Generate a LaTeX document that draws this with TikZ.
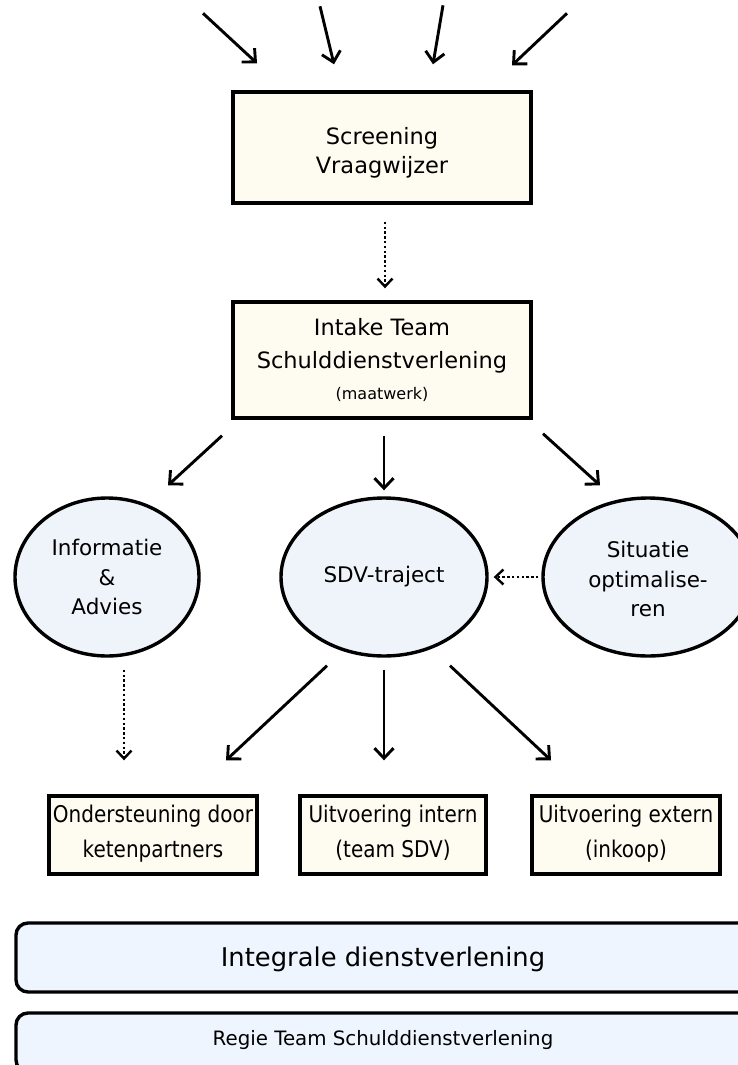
\documentclass[tikz,border=0pt]{standalone}
\usepackage{fontspec}
\setmainfont{DejaVu Sans}
\usetikzlibrary{arrows.meta,shapes.geometric,calc}
\definecolor{boxfill}{HTML}{FEFCF0}
\definecolor{ellfill}{HTML}{EFF4FA}
\definecolor{bankfill}{HTML}{EEF5FE}
\newcommand{\fsz}[1]{\fontsize{#1}{#1}\selectfont}
\newcommand{\shiftv}[2]{\raisebox{#1}[\height][\depth]{#2}}
\begin{document}
\begin{tikzpicture}[x=1pt,y=-1pt,
  box/.style={draw=black,line width=3.4pt,fill=boxfill,inner sep=0pt,align=center},
  ell/.style={draw=black,line width=3.4pt,fill=ellfill,ellipse,inner sep=0pt,align=center,minimum height=158pt},
  bank/.style={draw=black,line width=3.4pt,fill=bankfill,rounded corners=12pt,inner sep=0pt,minimum width=734pt},
  arr/.style={line width=2.9pt,-{Straight Barb[length=10pt,width=19pt,line width=2.9pt]}},
  darr/.style={line width=2.8pt,dash pattern=on 2.4pt off 2.4pt,-{Straight Barb[length=8pt,width=15pt,line width=2.4pt]}}]
\useasboundingbox (0,0) rectangle (738,1065);
\clip (0,0) rectangle (738,1065);

\node[box,minimum width=298pt,minimum height=111pt,font=\fsz{22.5}] (screen) at (382,147.5) {\shiftv{-6pt}{\begin{tabular}{@{}c@{}}Screening\\[5pt]Vraagwijzer\end{tabular}}};
\node[box,minimum width=298pt,minimum height=116pt,font=\fsz{22.5}] (intake) at (382,360) {Intake Team\\[11pt]Schulddienstverlening\\[8pt]{\fsz{16}(maatwerk)}};

\node[ell,minimum width=184pt,font=\fsz{21.5}] (info) at (107,577) {Informatie\\[8pt]\&\\[8pt]Advies};
\node[ell,minimum width=206pt,font=\fsz{21.5}] (sdv) at (384,577) {SDV-traject};
\node[ell,minimum width=210pt,font=\fsz{21.5}] (situ) at (648,577) {\shiftv{-5pt}{\begin{tabular}{@{}c@{}}Situatie\\[7pt]optimalise-\\[7pt]ren\end{tabular}}};

\node[box,minimum width=208pt,minimum height=78pt,font=\fsz{20}] (ond) at (153,835) {\scalebox{1}[1.15]{\begin{tabular}{@{}c@{}}Ondersteuning door\\[9pt]ketenpartners\end{tabular}}};
\node[box,minimum width=186pt,minimum height=78pt,font=\fsz{20}] (intern) at (393,835) {\scalebox{1}[1.15]{\begin{tabular}{@{}c@{}}Uitvoering intern\\[9pt](team SDV)\end{tabular}}};
\node[box,minimum width=188pt,minimum height=78pt,font=\fsz{20}] (extern) at (626,835) {\scalebox{1}[1.15]{\begin{tabular}{@{}c@{}}Uitvoering extern\\[9pt](inkoop)\end{tabular}}};

\node[bank,minimum height=69pt,font=\fsz{25.8}] (integraal) at (383,957.5) {\shiftv{-2pt}{Integrale dienstverlening}};
\node[bank,minimum height=59pt,font=\fsz{19.8}] (regie) at (383,1042.5) {\shiftv{2pt}{Regie Team Schulddienstverlening}};

% top incoming arrows
\coordinate (t1) at ($(screen.north)+(-179,-77)$);
\coordinate (t2) at ($(screen.north)+(-62,-84)$);
\coordinate (t3) at ($(screen.north)+(61,-85)$);
\coordinate (t4) at ($(screen.north)+(185,-77)$);
\draw[arr] (t1) -- ($(screen.north)+(-125,-27)$);
\draw[arr] (t2) -- ($(screen.north)+(-48,-26)$);
\draw[arr] (t3) -- ($(screen.north)+(51,-26)$);
\draw[arr] (t4) -- ($(screen.north)+(130,-25)$);

\draw[darr] ($(screen.south)+(3,17)$) -- ($(intake.north)+(3,-12)$);

\draw[arr] ($(intake.south)+(-160,16)$) -- ($(info.north)+(61,-11)$);
\draw[arr] ($(intake.south)+(2,16)$) -- ($(sdv.north)+(0,-6)$);
\draw[arr] ($(intake.south)+(161,14)$) -- ($(situ.north)+(-48,-11)$);

\draw[darr] ($(situ.west)+(-3,0)$) -- ($(sdv.east)+(5,0)$);

\draw[darr] ($(info.south)+(17,12)$) -- ($(ond.north)+(-29,-34)$);
\draw[arr] ($(sdv.south)+(-57,8)$) -- ($(ond.north)+(73,-34)$);
\draw[arr] ($(sdv.south)+(0,12)$) -- ($(intern.north)+(-9,-34)$);
\draw[arr] ($(sdv.south)+(66,8)$) -- ($(extern.north)+(-75,-34)$);
\end{tikzpicture}
\end{document}
